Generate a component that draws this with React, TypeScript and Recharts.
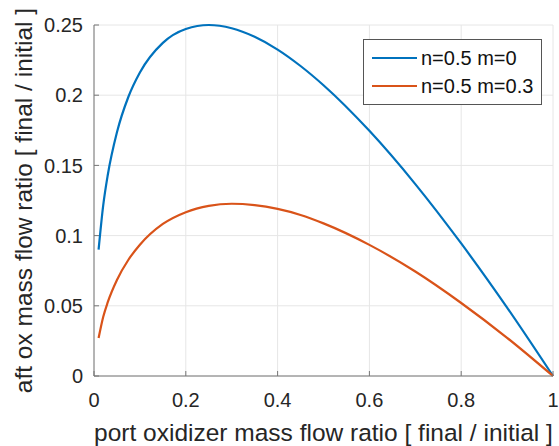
import { LineChart, Line, XAxis, YAxis, CartesianGrid, Legend } from "recharts";

// port oxidizer mass flow ratio (x) and aft ox mass flow ratio for the two cases
const portRatio = [0.01, 0.02, 0.03, 0.05, 0.075, 0.1, 0.15, 0.2, 0.25, 0.3, 0.35, 0.4, 0.45, 0.5, 0.6, 0.7, 0.8, 0.9, 1.0];
const aftM0 = [0.09, 0.1214, 0.1432, 0.1736, 0.1989, 0.2162, 0.2373, 0.2472, 0.25, 0.2477, 0.2416, 0.2325, 0.2208, 0.2071, 0.1746, 0.1367, 0.0944, 0.0487, 0];
const aftM03 = [0.027, 0.042, 0.0526, 0.0684, 0.0828, 0.0935, 0.1083, 0.1167, 0.1212, 0.1227, 0.1217, 0.119, 0.1147, 0.1087, 0.0934, 0.0744, 0.052, 0.0272, 0];

const xTicks = [0, 0.2, 0.4, 0.6, 0.8, 1];
const yTicks = [0, 0.05, 0.1, 0.15, 0.2, 0.25];

const SERIES = [
  { key: "m0", name: "n=0.5 m=0", color: "#0072BD" },
  { key: "m03", name: "n=0.5 m=0.3", color: "#D95319" },
];

const FONT = "'Liberation Sans', Arial, Helvetica, sans-serif";
const AXIS_COLOR = "#777777";
const TEXT_COLOR = "#262626";

const data = portRatio.map((x, i) => ({ x, m0: aftM0[i], m03: aftM03[i] }));

const fmt = (v: number) => String(Number(v.toFixed(2)));

function BoxLegend() {
  return (
    <div
      style={{
        border: "1px solid #555",
        background: "#fff",
        padding: "4px 8px 4px 8px",
        fontFamily: FONT,
        fontSize: 20,
        color: "#111",
        lineHeight: "28px",
      }}
    >
      {SERIES.map((s) => (
        <div key={s.key} style={{ display: "flex", alignItems: "center" }}>
          <span style={{ display: "inline-block", width: 45, height: 2, background: s.color, marginRight: 4 }} />
          <span>{s.name}</span>
        </div>
      ))}
    </div>
  );
}

export default function App() {
  return (
    <div style={{ position: "absolute", left: 0, top: 0, width: 559, height: 446, background: "#fff" }}>
      <LineChart width={559} height={446} data={data} margin={{ top: 25, right: 6, bottom: 0, left: 0 }}>
        <CartesianGrid stroke="#e6e6e6" strokeWidth={1} />
        <XAxis
          dataKey="x"
          type="number"
          domain={[0, 1]}
          ticks={xTicks}
          interval={0}
          height={70}
          tickSize={-5}
          tickMargin={22}
          stroke={AXIS_COLOR}
          tickFormatter={fmt}
          tick={{ fill: TEXT_COLOR, fontSize: 20, fontFamily: FONT }}
          label={{
            content: ({ viewBox }: any) => (
              <text
                x={viewBox.x + viewBox.width / 2}
                y={viewBox.y + viewBox.height - 5}
                textAnchor="middle"
                fill={TEXT_COLOR}
                fontSize={24.5}
                fontFamily={FONT}
              >
                port oxidizer mass flow ratio [ final / initial ]
              </text>
            ),
          }}
        />
        <XAxis
          xAxisId="top"
          orientation="top"
          dataKey="x"
          type="number"
          domain={[0, 1]}
          ticks={xTicks}
          interval={0}
          height={0}
          tickSize={-5}
          stroke={AXIS_COLOR}
          tickFormatter={() => ""}
        />
        <YAxis
          type="number"
          domain={[0, 0.25]}
          ticks={yTicks}
          interval={0}
          width={94}
          tickSize={-5}
          tickMargin={16}
          stroke={AXIS_COLOR}
          tickFormatter={fmt}
          tick={{ fill: TEXT_COLOR, fontSize: 20, fontFamily: FONT }}
          label={{
            content: ({ viewBox }: any) => {
              const cx = 32;
              const cy = viewBox.y + viewBox.height / 2;
              return (
                <text
                  x={cx}
                  y={cy}
                  transform={`rotate(-90 ${cx} ${cy})`}
                  textAnchor="middle"
                  fill={TEXT_COLOR}
                  fontSize={24.5}
                  fontFamily={FONT}
                >
                  aft ox mass flow ratio [ final / initial ]
                </text>
              );
            },
          }}
        />
        <YAxis
          yAxisId="right"
          orientation="right"
          type="number"
          domain={[0, 0.25]}
          ticks={yTicks}
          interval={0}
          width={0}
          tickSize={-5}
          stroke={AXIS_COLOR}
          tickFormatter={() => ""}
        />
        <Legend
          layout="horizontal"
          verticalAlign="middle"
          align="center"
          content={() => <BoxLegend />}
          wrapperStyle={{ position: "absolute", left: 363, top: 39, width: "auto", height: "auto" }}
        />
        {SERIES.map((s) => (
          <Line
            key={s.key}
            dataKey={s.key}
            name={s.name}
            type="monotone"
            stroke={s.color}
            strokeWidth={2.2}
            dot={false}
            activeDot={false}
            isAnimationActive={false}
          />
        ))}
      </LineChart>
    </div>
  );
}
